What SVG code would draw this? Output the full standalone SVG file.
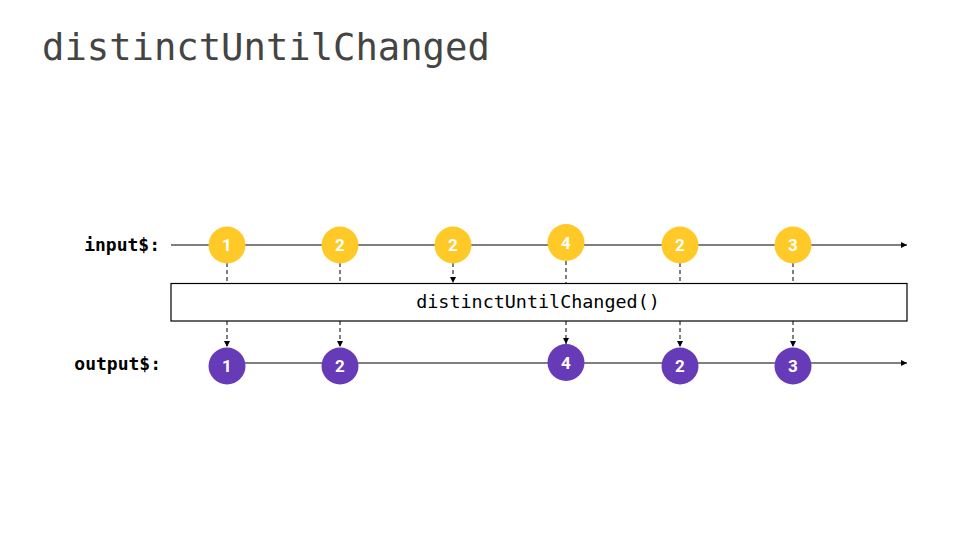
<svg xmlns="http://www.w3.org/2000/svg" width="960" height="540" viewBox="0 0 960 540">
<style>
.line{stroke:#000;stroke-width:1.2;fill:none}
.dash{stroke:#000;stroke-width:1;stroke-dasharray:4,3;fill:none}
.in{fill:#FFCA28}
.out{fill:#673AB7}
.num{font-family:Roboto,"Noto Sans",sans-serif;font-weight:bold;font-size:17px;fill:#fff;text-anchor:middle}
.lbl{font-family:"DejaVu Sans Mono","Liberation Mono",monospace;font-weight:bold;font-size:18px;fill:#000;text-anchor:end}
</style>
<defs>
<marker id="ah" viewBox="0 0 10 10" refX="10" refY="5" markerWidth="6" markerHeight="6" markerUnits="userSpaceOnUse" orient="auto">
<path d="M0,0 L10,5 L0,10 z" fill="#000"/>
</marker>
</defs>
<rect width="960" height="540" fill="#fff"/>
<text id="title" x="42" y="60" font-family="DejaVu Sans Mono,Liberation Mono,monospace" font-size="37.2" fill="#444">distinctUntilChanged</text>
<g id="connectors">
<line class="line" x1="171" y1="245" x2="907" y2="245" marker-end="url(#ah)"/>
<line class="line" x1="227" y1="363" x2="907" y2="363" marker-end="url(#ah)"/>
<line class="dash" x1="227" y1="263" x2="227" y2="283"/>
<line class="dash" x1="340" y1="263" x2="340" y2="283"/>
<line class="dash" x1="453" y1="263" x2="453" y2="283" marker-end="url(#ah)"/>
<line class="dash" x1="566" y1="261" x2="566" y2="283"/>
<line class="dash" x1="680" y1="263" x2="680" y2="283"/>
<line class="dash" x1="793" y1="263" x2="793" y2="283"/>
<line class="dash" x1="227" y1="321" x2="227" y2="347" marker-end="url(#ah)"/>
<line class="dash" x1="340" y1="321" x2="340" y2="347" marker-end="url(#ah)"/>
<line class="dash" x1="566" y1="321" x2="566" y2="344" marker-end="url(#ah)"/>
<line class="dash" x1="680" y1="321" x2="680" y2="347" marker-end="url(#ah)"/>
<line class="dash" x1="793" y1="321" x2="793" y2="347" marker-end="url(#ah)"/>
</g>
<g id="labels">
<text class="lbl" x="160" y="251">input$:</text>
<text class="lbl" x="161" y="370">output$:</text>
</g>
<g id="operator">
<rect x="171" y="283.5" width="736" height="37.5" fill="#fff" stroke="#000" stroke-width="1.2"/>
<text x="538" y="308" font-family="DejaVu Sans Mono,Liberation Mono,monospace" font-size="18.4" fill="#000" text-anchor="middle">distinctUntilChanged()</text>
</g>
<g id="in1"><circle class="in" cx="227" cy="245" r="18.5"/><text class="num" x="227" y="251">1</text></g>
<g id="in2"><circle class="in" cx="340" cy="245" r="18.5"/><text class="num" x="340" y="251">2</text></g>
<g id="in3"><circle class="in" cx="453" cy="245" r="18.5"/><text class="num" x="453" y="251">2</text></g>
<g id="in4"><circle class="in" cx="566" cy="242.5" r="18.5"/><text class="num" x="566" y="248.5">4</text></g>
<g id="in5"><circle class="in" cx="680" cy="245" r="18.5"/><text class="num" x="680" y="251">2</text></g>
<g id="in6"><circle class="in" cx="793" cy="245" r="18.5"/><text class="num" x="793" y="251">3</text></g>
<g id="out1"><circle class="out" cx="227" cy="366" r="18.5"/><text class="num" x="227" y="372">1</text></g>
<g id="out2"><circle class="out" cx="340" cy="366" r="18.5"/><text class="num" x="340" y="372">2</text></g>
<g id="out3"><circle class="out" cx="566" cy="362.5" r="18.5"/><text class="num" x="566" y="368.5">4</text></g>
<g id="out4"><circle class="out" cx="680" cy="366" r="18.5"/><text class="num" x="680" y="372">2</text></g>
<g id="out5"><circle class="out" cx="793" cy="366" r="18.5"/><text class="num" x="793" y="372">3</text></g>
</svg>
